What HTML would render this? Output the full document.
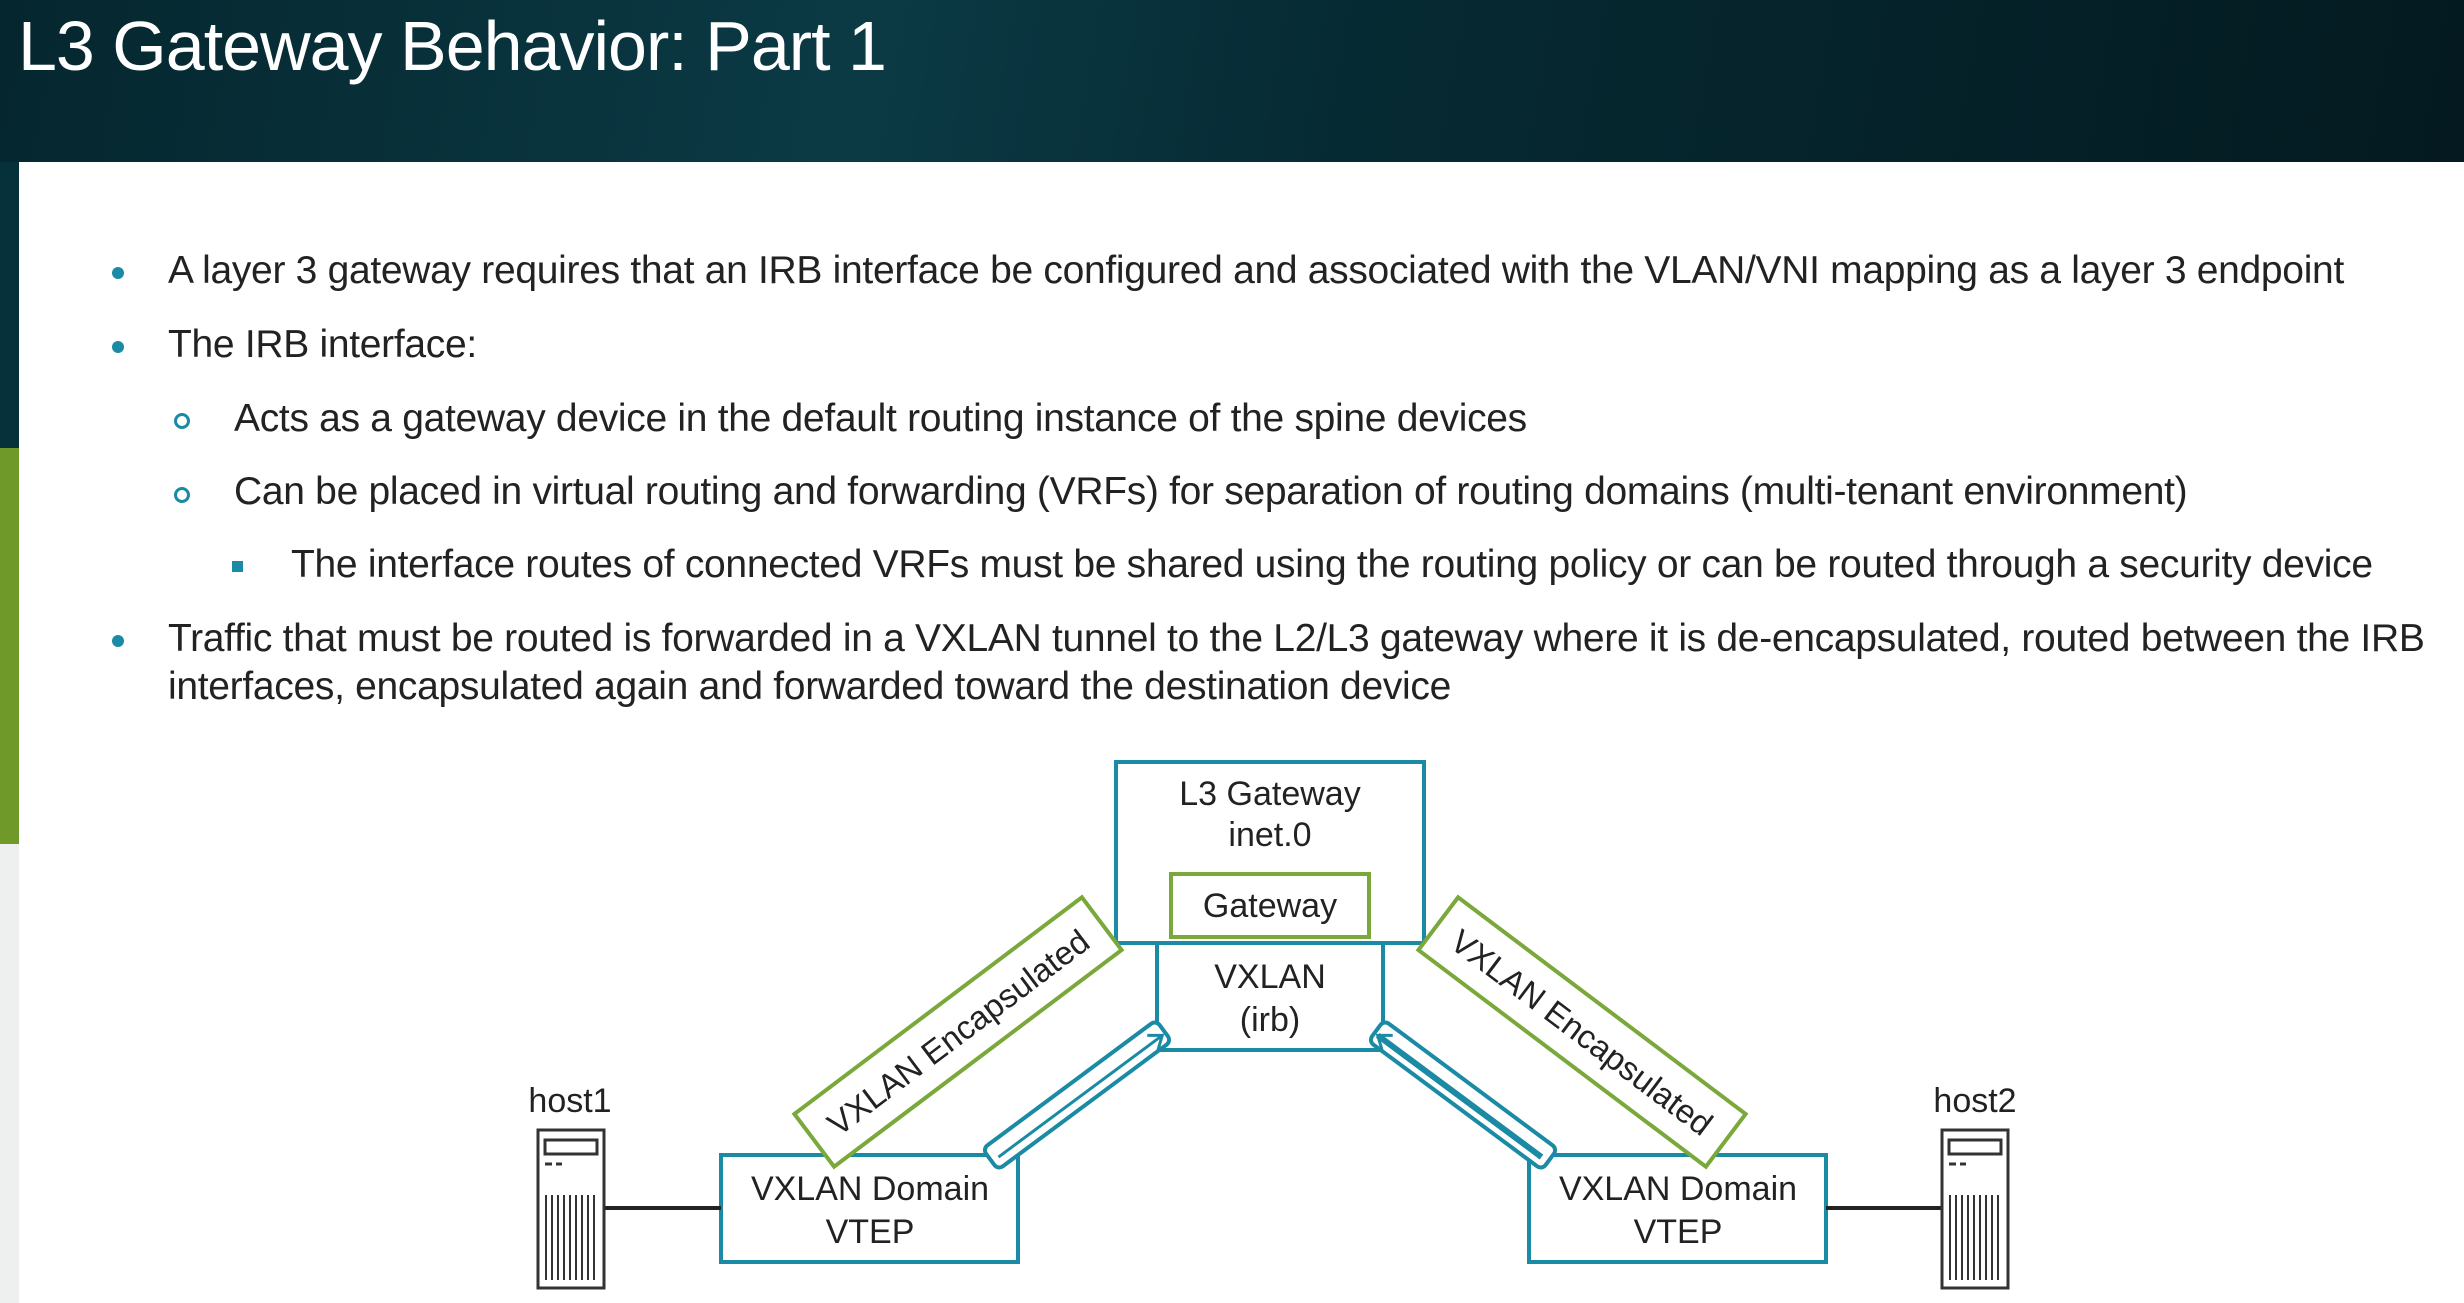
<!DOCTYPE html>
<html><head><meta charset="utf-8"><style>
html,body{margin:0;padding:0;width:2464px;height:1303px;overflow:hidden;background:#fff;font-family:"Liberation Sans",sans-serif;}
.hdr{position:absolute;left:0;top:0;width:2464px;height:162px;background:linear-gradient(100deg,#05262e 0%,#0b3a45 35%,#062a33 55%,#041a20 100%);}
.title{position:absolute;left:18px;top:6px;color:#fff;font-size:70px;letter-spacing:-1px;}
.strip1{position:absolute;left:0;top:162px;width:19px;height:286px;background:#06303a;}
.strip2{position:absolute;left:0;top:448px;width:19px;height:396px;background:#6f9a2a;}
.strip3{position:absolute;left:0;top:844px;width:19px;height:459px;background:#eef0f0;}
.t{position:absolute;font-size:39px;color:#222;white-space:nowrap;letter-spacing:-0.3px;}
.dot{position:absolute;width:12px;height:12px;border-radius:50%;background:#1a8aa5;}
.circ{position:absolute;width:10px;height:10px;border-radius:50%;border:3px solid #1a8aa5;}
.sq{position:absolute;width:11px;height:11px;background:#1a8aa5;}
</style></head><body>
<div class="hdr"></div>
<div class="title">L3 Gateway Behavior: Part 1</div>
<div class="strip1"></div><div class="strip2"></div><div class="strip3"></div>

<div class="dot" style="left:112px;top:267px"></div>
<div class="t" style="left:168px;top:249px">A layer 3 gateway requires that an IRB interface be configured and associated with the VLAN/VNI mapping as a layer 3 endpoint</div>
<div class="dot" style="left:112px;top:341px"></div>
<div class="t" style="left:168px;top:323px">The IRB interface:</div>
<div class="circ" style="left:174px;top:413px"></div>
<div class="t" style="left:234px;top:397px">Acts as a gateway device in the default routing instance of the spine devices</div>
<div class="circ" style="left:174px;top:487px"></div>
<div class="t" style="left:234px;top:470px">Can be placed in virtual routing and forwarding (VRFs) for separation of routing domains (multi-tenant environment)</div>
<div class="sq" style="left:232px;top:561px"></div>
<div class="t" style="left:291px;top:543px">The interface routes of connected VRFs must be shared using the routing policy or can be routed through a security device</div>
<div class="dot" style="left:112px;top:635px"></div>
<div class="t" style="left:168px;top:617px">Traffic that must be routed is forwarded in a VXLAN tunnel to the L2/L3 gateway where it is de-encapsulated, routed between the IRB</div>
<div class="t" style="left:168px;top:665px">interfaces, encapsulated again and forwarded toward the destination device</div>

<svg style="position:absolute;left:0;top:0" width="2464" height="1303" font-family="Liberation Sans, sans-serif" font-size="34" fill="#222">
<g fill="none" stroke="#1a8aa5" stroke-width="4">
<rect x="1116" y="762" width="308" height="181" fill="#fff"/>
<rect x="1157" y="943" width="226" height="107" fill="#fff"/>
<rect x="721" y="1155" width="297" height="107" fill="#fff"/>
<rect x="1529" y="1155" width="297" height="107" fill="#fff"/>
</g>
<rect x="1171" y="874" width="198" height="63" fill="#fff" stroke="#7aa83a" stroke-width="4"/>
<text x="1270" y="805" text-anchor="middle">L3 Gateway</text>
<text x="1270" y="846" text-anchor="middle">inet.0</text>
<text x="1270" y="917" text-anchor="middle">Gateway</text>
<text x="1270" y="988" text-anchor="middle">VXLAN</text>
<text x="1270" y="1031" text-anchor="middle">(irb)</text>
<text x="870" y="1200" text-anchor="middle">VXLAN Domain</text>
<text x="870" y="1243" text-anchor="middle">VTEP</text>
<text x="1678" y="1200" text-anchor="middle">VXLAN Domain</text>
<text x="1678" y="1243" text-anchor="middle">VTEP</text>
<g transform="translate(958,1032) rotate(-37)">
<rect x="-180" y="-33" width="360" height="66" fill="#fff" stroke="#7aa83a" stroke-width="4"/>
<text x="0" y="12" text-anchor="middle" font-size="33">VXLAN Encapsulated</text>
</g>
<g transform="translate(1582,1032) rotate(37)">
<rect x="-180" y="-33" width="360" height="66" fill="#fff" stroke="#7aa83a" stroke-width="4"/>
<text x="0" y="12" text-anchor="middle" font-size="33">VXLAN Encapsulated</text>
</g>
<g transform="translate(1077,1095) rotate(-36.6)">
<rect x="-108" y="-13" width="216" height="26" rx="6" fill="#fff" stroke="#1a8aa5" stroke-width="4"/>
<line x1="-100" y1="3" x2="104" y2="3" stroke="#1a8aa5" stroke-width="3"/>
<path d="M92,-6 L104,3 L92,12" fill="none" stroke="#1a8aa5" stroke-width="3"/>
</g>
<g transform="translate(1463,1095) rotate(36.6)">
<rect x="-108" y="-13" width="216" height="26" rx="6" fill="#fff" stroke="#1a8aa5" stroke-width="4"/>
<line x1="-104" y1="3" x2="100" y2="3" stroke="#1a8aa5" stroke-width="6"/>
<path d="M-92,-6 L-104,3 L-92,12" fill="none" stroke="#1a8aa5" stroke-width="3"/>
</g>
<line x1="605" y1="1208" x2="721" y2="1208" stroke="#222" stroke-width="4"/>
<line x1="1826" y1="1208" x2="1942" y2="1208" stroke="#222" stroke-width="4"/>
<text x="570" y="1112" text-anchor="middle">host1</text>
<text x="1975" y="1112" text-anchor="middle">host2</text>
<g id="h1" fill="#fff" stroke="#333" stroke-width="3">
<rect x="538" y="1130" width="66" height="158"/>
<rect x="545" y="1140" width="52" height="14"/>
<line x1="545" y1="1164" x2="552" y2="1164"/><line x1="556" y1="1164" x2="562" y2="1164"/>
<path d="M546 1195 V1280 M552 1195 V1280 M558 1195 V1280 M564 1195 V1280 M570 1195 V1280 M576 1195 V1280 M582 1195 V1280 M588 1195 V1280 M594 1195 V1280" stroke-width="2"/>
</g>
<use href="#h1" transform="translate(1404,0)"/>
</svg>
</body></html>
